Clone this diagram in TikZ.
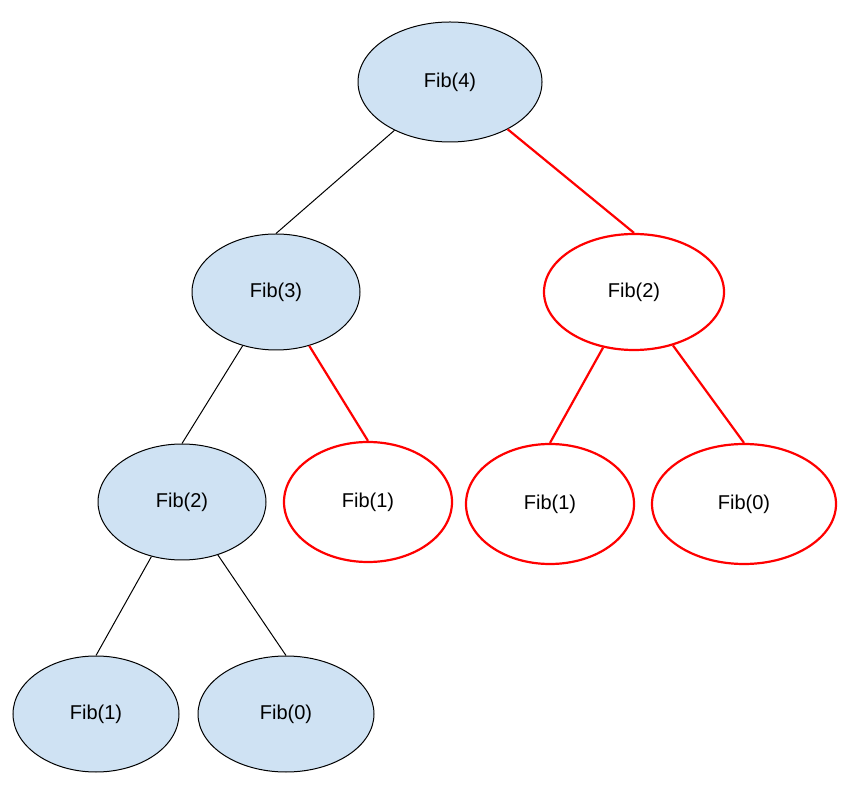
\documentclass[tikz,border=0pt]{standalone}
\usepackage{fontspec}
\setmainfont{Liberation Sans}
\usetikzlibrary{shapes.geometric}
\definecolor{lb}{HTML}{CFE2F3}
\begin{document}
\begin{tikzpicture}[x=1pt,y=1pt,
  bn/.style={ellipse,draw=black,fill=lb,line width=1pt,inner sep=0pt,font=\fontsize{20}{24}\selectfont},
  rn/.style={ellipse,draw=red,fill=white,line width=2.2pt,inner sep=0pt,font=\fontsize{20}{24}\selectfont},
  be/.style={draw=black,line width=1pt},
  re/.style={draw=red,line width=2.2pt}]
\useasboundingbox (0,0) rectangle (858,792);
\node[bn,minimum width=184,minimum height=120] (f4) at (450,710) {Fib(4)};
\node[bn,minimum width=168,minimum height=116] (f3) at (276,500) {Fib(3)};
\node[rn,minimum width=180,minimum height=116] (f2r) at (634,500) {Fib(2)};
\node[bn,minimum width=168,minimum height=116] (f2b) at (182,290) {Fib(2)};
\node[rn,minimum width=168,minimum height=120] (f1a) at (368,290) {Fib(1)};
\node[rn,minimum width=168,minimum height=120] (f1b) at (550,288) {Fib(1)};
\node[rn,minimum width=184,minimum height=120] (f0a) at (744,288) {Fib(0)};
\node[bn,minimum width=166,minimum height=116] (f1c) at (96,78) {Fib(1)};
\node[bn,minimum width=176,minimum height=116] (f0b) at (286,78) {Fib(0)};
\draw[be] (f4) -- (f3.north);
\draw[re] (f4) -- (f2r.north);
\draw[be] (f3) -- (f2b.north);
\draw[re] (f3) -- (f1a.north);
\draw[re] (f2r) -- (f1b.north);
\draw[re] (f2r) -- (f0a.north);
\draw[be] (f2b) -- (f1c.north);
\draw[be] (f2b) -- (f0b.north);
\end{tikzpicture}
\end{document}
